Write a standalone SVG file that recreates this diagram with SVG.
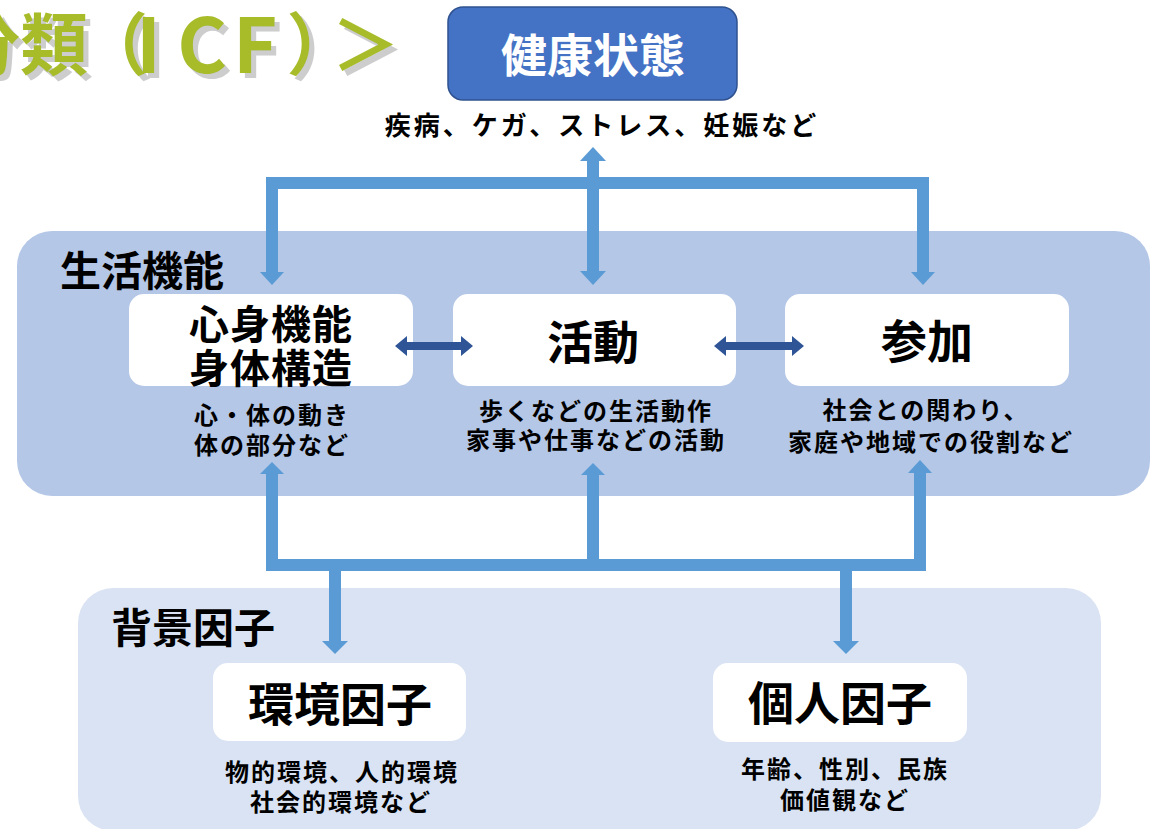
<svg xmlns="http://www.w3.org/2000/svg" width="1151" height="829" viewBox="0 0 1151 829">
<defs>
<style>
text{font-family:"Noto Sans CJK JP","Noto Sans CJK SC",sans-serif;font-weight:700;fill:#000;dominant-baseline:central;text-anchor:middle}
.box{fill:#fff}
.desc{font-size:24px;letter-spacing:2px}
.ttl{font-size:46px}
.ttl2{font-size:40px;letter-spacing:1px}
.lbl{font-size:41px;text-anchor:start}
.lb{fill:#5B9BD5}
.conn{stroke:#5B9BD5;stroke-width:12;fill:none;stroke-linejoin:miter}
.db{fill:#2F5597}
</style>
<filter id="sh" x="-10%" y="-10%" width="130%" height="140%">
<feDropShadow dx="5" dy="5" stdDeviation="0.6" flood-color="#C8C8C8" flood-opacity="0.9"/>
</filter>
</defs>
<rect width="1151" height="829" fill="#fff"/>

<g id="title" filter="url(#sh)">
<text x="-48" y="40" style="text-anchor:start;font-size:68px;fill:#A8BC2C">分<tspan style="letter-spacing:-8px">類</tspan><tspan style="letter-spacing:-12px">（</tspan><tspan style="font-size:76px;letter-spacing:16px">I</tspan><tspan style="font-size:76px;letter-spacing:6px">C</tspan><tspan style="font-size:76px;letter-spacing:9px">F</tspan><tspan style="letter-spacing:-23px">）</tspan>＞</text>
</g>

<g id="panel-seikatsu">
<rect x="17" y="231" width="1133" height="265" rx="35" fill="#B4C7E7"/>
<text class="lbl" x="60" y="268">生活機能</text>
</g>
<g id="panel-haikei">
<rect x="78" y="588" width="1023" height="243" rx="35" fill="#DAE3F3"/>
<text class="lbl" x="111" y="625">背景因子</text>
</g>

<g id="node-kenkou">
<rect x="448" y="7" width="289" height="93" rx="15" fill="#4472C4" stroke="#2F528F" stroke-width="1.5"/>
<text class="ttl" x="593" y="52" style="fill:#fff">健康状態</text>
<text x="602" y="123" style="font-size:26px;letter-spacing:3px">疾病、ケガ、ストレス、妊娠など</text>
</g>

<g id="node-shinshin">
<rect class="box" x="129" y="294" width="284" height="92" rx="15"/>
<text class="ttl2" x="271" y="322">心身機能</text>
<text class="ttl2" x="271" y="366">身体構造</text>
<text class="desc" x="272" y="413">心・体の動き</text>
<text class="desc" x="272" y="443">体の部分など</text>
</g>

<g id="node-katsudou">
<rect class="box" x="453" y="294" width="283" height="92" rx="15"/>
<text class="ttl" x="593" y="339">活動</text>
<text class="desc" x="596" y="409">歩くなどの生活動作</text>
<text class="desc" x="596" y="438">家事や仕事などの活動</text>
</g>

<g id="node-sanka">
<rect class="box" x="785" y="294" width="284" height="92" rx="15"/>
<text class="ttl" x="927" y="338">参加</text>
<text class="desc" x="926" y="408">社会との関わり、</text>
<text class="desc" x="931" y="440">家庭や地域での役割など</text>
</g>

<g id="node-kankyou">
<rect class="box" x="213" y="663" width="253" height="78" rx="15"/>
<text class="ttl" x="340" y="701">環境因子</text>
<text class="desc" x="342" y="770">物的環境、人的環境</text>
<text class="desc" x="341" y="800">社会的環境など</text>
</g>

<g id="node-kojin">
<rect class="box" x="713" y="663" width="254" height="79" rx="15"/>
<text class="ttl" x="840" y="700">個人因子</text>
<text class="desc" x="845" y="767">年齢、性別、民族</text>
<text class="desc" x="845" y="798">価値観など</text>
</g>

<g id="connectors">
<path class="conn" d="M272,273 V183 H923 V273"/>
<polygon class="lb" points="260,272 284,272 272,285"/>
<polygon class="lb" points="911,272 935,272 923,285"/>
<path class="conn" d="M593,160 V272"/>
<polygon class="lb" points="580,161 606,161 593,147"/>
<polygon class="lb" points="580,271 606,271 593,285"/>

<path class="conn" d="M272,474 V565 H920 V473"/>
<polygon class="lb" points="260,474 284,474 272,462"/>
<polygon class="lb" points="908,473 932,473 920,460"/>
<path class="conn" d="M593,475 V571"/>
<polygon class="lb" points="581,475 605,475 593,463"/>
<path class="conn" d="M335,565 V642"/>
<polygon class="lb" points="322,641 348,641 335,654"/>
<path class="conn" d="M846,560 V642"/>
<polygon class="lb" points="833,641 859,641 846,654"/>

<polygon class="db" points="395,346 407,336 407,342 461,342 461,336 473,346 461,356 461,350 407,350 407,356"/>
<polygon class="db" points="714,346 726,336 726,342 792,342 792,336 804,346 792,356 792,350 726,350 726,356"/>
</g>
</svg>
